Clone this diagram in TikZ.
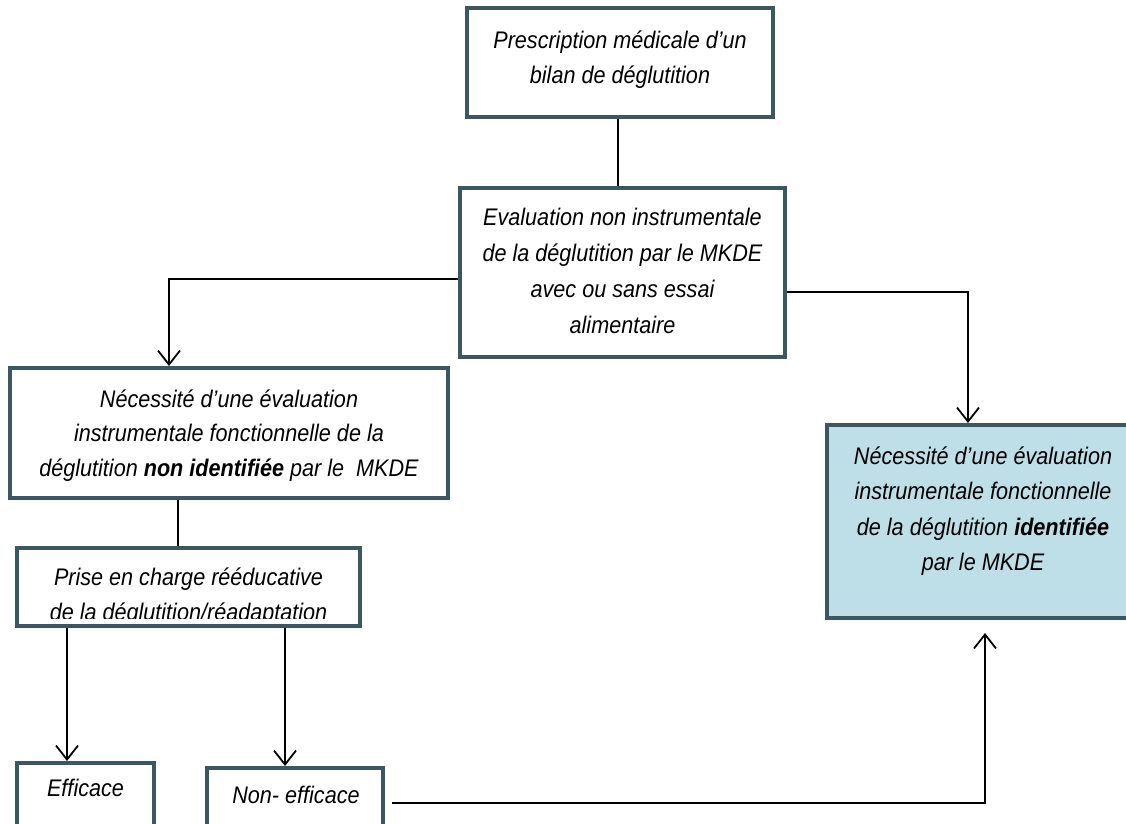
\documentclass[tikz,border=0pt]{standalone}
\usepackage{fontspec}
\usepackage{graphicx}
\setmainfont{Liberation Sans}
\usetikzlibrary{arrows.meta}
\definecolor{boxline}{RGB}{61,87,97}
\definecolor{boxfill}{RGB}{190,222,232}
\newcommand{\txtlines}[1]{\scalebox{0.9}[1]{\begin{tabular}[t]{@{}c@{}}#1\end{tabular}}}
\begin{document}
\begin{tikzpicture}[x=1pt,y=-1pt,
  box/.style={draw=boxline, line width=4pt, rectangle, inner sep=0pt},
  txt/.style={inner sep=0pt, anchor=base, font=\fontsize{24}{35.5}\selectfont\itshape},
  conn/.style={draw=black, line width=1.8pt},
  arr/.style={conn, -{Straight Barb[length=14pt,width=22pt]}}]
\useasboundingbox (0,0) rectangle (1126,823);

% boxes
\node[box, minimum width=306pt, minimum height=109pt] (b1) at (620,62.5) {};
\node[box, minimum width=325pt, minimum height=169pt] (b2) at (622.5,272.5) {};
\node[box, minimum width=438pt, minimum height=130pt] (b3) at (229,433) {};
\node[box, minimum width=343pt, minimum height=78pt] (b4) at (188.5,587) {};
\node[box, fill=boxfill, minimum width=312pt, minimum height=193pt] (b5) at (983,521.5) {};
\node[box, minimum width=137pt, minimum height=82pt] (eff) at (85.5,804) {};
\node[box, minimum width=176pt, minimum height=82pt] (non) at (295,809) {};

% texts
\node[txt] (t1) at (620,48) {\txtlines{Prescription médicale d’un\\bilan de déglutition}};
\node[txt, font=\fontsize{24}{36}\selectfont\itshape] (t2) at (622.5,225) {\txtlines{Evaluation non instrumentale\\de la déglutition par le MKDE\\avec ou sans essai\\alimentaire}};
\node[txt, font=\fontsize{24}{34.5}\selectfont\itshape] (t3) at (229,407) {\txtlines{Nécessité d’une évaluation\\instrumentale fonctionnelle de la\\déglutition {\bfseries non identifiée} par le\ \ MKDE}};
\begin{scope}
  \clip (19,550) rectangle (358,618.5);
  \node[txt, font=\fontsize{24}{35}\selectfont\itshape] (t4) at (188.5,585) {\txtlines{Prise en charge rééducative\\de la déglutition/réadaptation}};
\end{scope}
\node[txt] (t5) at (983,464) {\txtlines{Nécessité d’une évaluation\\instrumentale fonctionnelle\\de la déglutition {\bfseries identifiée}\\par le MKDE}};
\node[txt] (t6) at (85.5,796) {\txtlines{Efficace}};
\node[txt] (t7) at (296,803) {\txtlines{Non- efficace}};

% bend coordinates
\coordinate (k1) at (169,279);
\coordinate (k2) at (968,292);
\coordinate (k3) at (985,803);
\coordinate (k4) at (178,0);
\coordinate (k5) at (67,0);
\coordinate (k6) at (285,0);
\coordinate (k0) at (618,0);

% connectors
\draw[conn] (b1.south -| k0) -- (b2.north -| k0);
\draw[arr] (b2.west |- k1) -| (b3.north -| k1);
\draw[arr] (b2.east |- k2) -| (b5.north -| k2);
\draw[conn] (b3.south -| k4) -- (b4.north -| k4);
\draw[arr] (b4.south -| k5) -- (eff.north -| k5);
\draw[arr] (b4.south -| k6) -- (non.north -| k6);
\draw[arr, shorten <=7pt, shorten >=13pt] (non.east |- k3) -| (b5.south -| k3);
\end{tikzpicture}
\end{document}
